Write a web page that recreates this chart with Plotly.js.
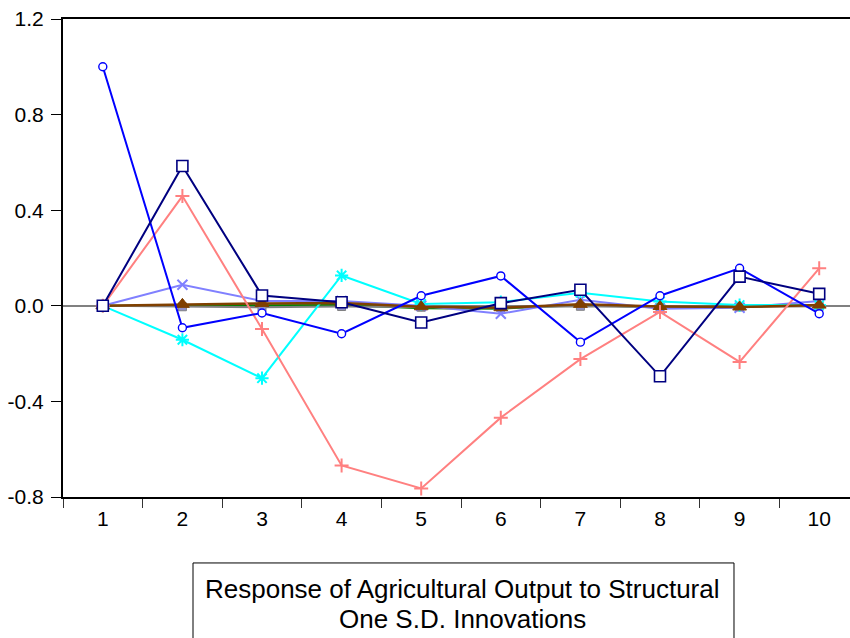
<!DOCTYPE html>
<html>
<head>
<meta charset="utf-8">
<script src="https://cdn.plot.ly/plotly-3.0.1.min.js"></script>
<style>html,body{margin:0;padding:0;background:#fff;overflow:hidden;}#chart{width:850px;height:638px;}</style>
</head>
<body>
<div id="chart"></div>
<script>
var periods = ["1","2","3","4","5","6","7","8","9","10"];
var shock1 = [1.0, -0.092, -0.03, -0.117, 0.042, 0.125, -0.152, 0.042, 0.157, -0.033];
var shock2 = [0, 0.585, 0.043, 0.015, -0.07, 0.011, 0.067, -0.295, 0.122, 0.05];
var shock3 = [0, 0.459, -0.097, -0.668, -0.764, -0.468, -0.223, -0.026, -0.235, 0.157];
var shock4 = [0, -0.142, -0.303, 0.127, 0.008, 0.015, 0.055, 0.018, 0.003, 0.003];
var shock5 = [0, 0.088, 0.02, 0.02, 0.0, -0.033, 0.025, -0.012, -0.008, 0.02];
var shock6 = [0, 0.002, 0.004, 0.003, -0.01, -0.012, 0.003, -0.006, -0.004, 0.003];
var shock7 = [0, -0.004, -0.006, -0.003, -0.006, -0.008, -0.002, -0.006, -0.005, -0.002];
var shock8 = [0, 0.006, 0.01, 0.012, -0.004, -0.008, 0.006, -0.003, -0.005, 0.003];
var yTickVals = [1.2, 0.8, 0.4, 0.0, -0.4, -0.8];
var yTickText = ["1.2", "0.8", "0.4", "0.0", "-0.4", "-0.8"];
var legendLines = ["Response of Agricultural Output to Structural", "One S.D. Innovations"];

function tr(y, color, symbol, size, fill, lw, width) {
  return {
    x: periods, y: y, type: 'scatter', mode: 'lines+markers',
    line: {color: color, width: width},
    marker: {symbol: symbol, size: size, color: fill, line: {color: color, width: lw}},
    showlegend: false, hoverinfo: 'skip'
  };
}

var data = [
  tr(shock6, '#008000', 'circle', 5, '#008000', 1, 2),
  tr(shock7, '#808080', 'square', 8, '#9090c8', 1, 2),
  tr(shock5, '#8080FF', 'x-thin-open', 10, '#8080FF', 2, 2),
  tr(shock4, '#00FFFF', 'asterisk-open', 11, '#00FFFF', 2, 2),
  tr(shock8, '#804000', 'triangle-up', 12, '#804000', 1, 2.5),
  tr(shock3, '#FF8080', 'cross-thin-open', 10, '#FF8080', 2, 2),
  tr(shock1, '#0000FF', 'circle', 8, '#FFFFFF', 1.4, 2),
  tr(shock2, '#000080', 'square', 11, '#FFFFFF', 1.6, 2)
];

var font = 'Liberation Sans, Arial, sans-serif';
var layout = {
  width: 850, height: 638,
  margin: {l: 63, r: 0, t: 19, b: 141, pad: 0},
  paper_bgcolor: '#fff', plot_bgcolor: '#fff',
  font: {family: font, size: 21, color: '#000'},
  xaxis: {
    type: 'category', range: [-0.5, 9.387],
    showline: true, linecolor: '#000', linewidth: 2, mirror: true,
    ticks: 'outside', tickson: 'boundaries', ticklen: 9, tickwidth: 1, tickcolor: '#333',
    showgrid: false, zeroline: false, ticklabelstandoff: 2,
    tickfont: {family: font, size: 21, color: '#000'}
  },
  yaxis: {
    range: [-0.8, 1.2], tickvals: yTickVals, ticktext: yTickText,
    showline: true, linecolor: '#000', linewidth: 2,
    ticks: 'outside', ticklen: 10, tickwidth: 1, tickcolor: '#000',
    showgrid: false, zeroline: true, zerolinecolor: '#808080', zerolinewidth: 1.5,
    ticklabelstandoff: 3,
    tickfont: {family: font, size: 21, color: '#000'}
  },
  shapes: [
    {type: 'rect', xref: 'paper', yref: 'paper', x0: 0.1652, x1: 0.8526, y0: -0.4, y1: -0.138,
     line: {color: '#000', width: 1}, fillcolor: '#fff', layer: 'above'}
  ],
  annotations: [
    {xref: 'paper', yref: 'paper', x: 0.507, y: -0.192, text: legendLines[0], showarrow: false,
     xanchor: 'center', yanchor: 'middle', font: {family: font, size: 26, color: '#000'}},
    {xref: 'paper', yref: 'paper', x: 0.507, y: -0.255, text: legendLines[1], showarrow: false,
     xanchor: 'center', yanchor: 'middle', font: {family: font, size: 26, color: '#000'}}
  ]
};

Plotly.newPlot('chart', data, layout, {staticPlot: true, displayModeBar: false});
</script>
</body>
</html>
